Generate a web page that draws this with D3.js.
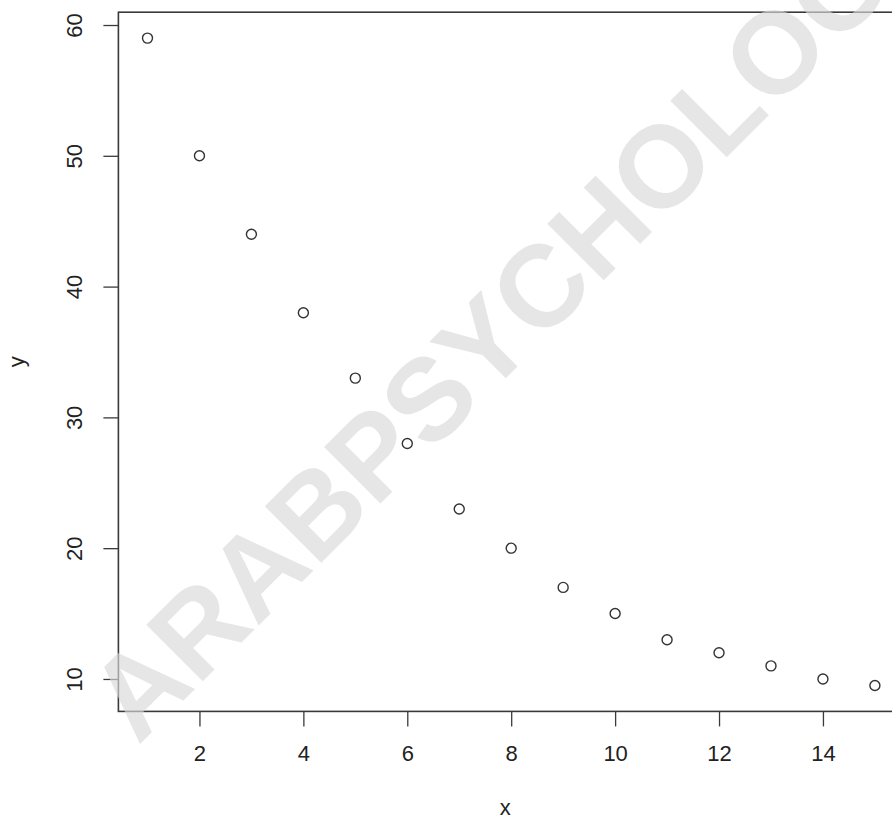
<!DOCTYPE html>
<html>
<head>
<meta charset="utf-8">
<script src="https://cdn.jsdelivr.net/npm/d3@7"></script>
<style>
  html, body { margin: 0; padding: 0; background: #fff; }
  svg { display: block; }
  text { font-family: "Liberation Sans", Arial, sans-serif; }
</style>
</head>
<body>
<div id="chart"></div>
<script>
var xValues = [1, 2, 3, 4, 5, 6, 7, 8, 9, 10, 11, 12, 13, 14, 15];
var yValues = [59, 50, 44, 38, 33, 28, 23, 20, 17, 15, 13, 12, 11, 10, 9.5];
var xTicks = [2, 4, 6, 8, 10, 12, 14];
var yTicks = [10, 20, 30, 40, 50, 60];
var xTitle = "x";
var yTitle = "y";
var watermark = "ARABPSYCHOLOGY";

var dim = { width: 892, height: 821 };
var plotBox = { left: 118.4, top: 12.2, right: 904, bottom: 711.4 };
var axisColor = "#3a3a3a";
var fontSize = 22;

// R style range: data extent padded 4% on each side
function padExtent(vals) {
    var ext = d3.extent(vals);
    var pad = (ext[1] - ext[0]) * 0.04;
    return [ext[0] - pad, ext[1] + pad];
}

var xScale = d3.scaleLinear().domain(padExtent(xValues)).range([plotBox.left, plotBox.right]);
var yScale = d3.scaleLinear().domain(padExtent(yValues)).range([plotBox.bottom, plotBox.top]);

var svg = d3.select("#chart").append("svg")
    .attr("width", dim.width)
    .attr("height", dim.height);

// x axis
var xAxis = svg.append("g")
    .attr("transform", "translate(0," + plotBox.bottom + ")")
    .call(d3.axisBottom(xScale).tickValues(xTicks).tickSize(15).tickPadding(19).tickSizeOuter(0));
// y axis
var yAxis = svg.append("g")
    .attr("transform", "translate(" + plotBox.left + ",0)")
    .call(d3.axisLeft(yScale).tickValues(yTicks).tickSize(15).tickSizeOuter(0));

[xAxis, yAxis].forEach(function (ax) {
    ax.select(".domain").remove();
    ax.selectAll(".tick line").attr("stroke", axisColor).attr("stroke-width", 1.3);
    ax.selectAll(".tick text")
        .attr("fill", "#222")
        .style("font-size", fontSize + "px")
        .style("font-family", "'Liberation Sans', Arial, sans-serif");
});

yAxis.selectAll(".tick text")
    .attr("x", null)
    .attr("text-anchor", "middle")
    .attr("transform", "translate(-44,0) rotate(-90)")
    .attr("y", 0)
    .attr("dy", "0.35em");

// plot frame
svg.append("rect")
    .attr("x", plotBox.left)
    .attr("y", plotBox.top)
    .attr("width", plotBox.right - plotBox.left)
    .attr("height", plotBox.bottom - plotBox.top)
    .attr("fill", "none")
    .attr("stroke", axisColor)
    .attr("stroke-width", 1.6);

// points
svg.append("g").selectAll("circle")
    .data(xValues)
    .enter().append("circle")
    .attr("cx", function (d) { return xScale(d); })
    .attr("cy", function (d, i) { return yScale(yValues[i]); })
    .attr("r", 5)
    .attr("fill", "none")
    .attr("stroke", "#333")
    .attr("stroke-width", 1.4);

// axis titles
svg.append("text")
    .attr("x", (plotBox.left + plotBox.right) / 2 - 6)
    .attr("y", 815)
    .attr("text-anchor", "middle")
    .style("font-size", fontSize + "px")
    .attr("fill", "#222")
    .text(xTitle);
svg.append("text")
    .attr("transform", "translate(24," + ((plotBox.top + plotBox.bottom) / 2) + ") rotate(-90)")
    .attr("text-anchor", "middle")
    .style("font-size", fontSize + "px")
    .attr("fill", "#222")
    .text(yTitle);

// watermark
svg.append("text")
    .attr("transform", "translate(138,746) rotate(-45)")
    .attr("text-anchor", "start")
    .style("font-size", "116px")
    .style("font-weight", "bold")
    .attr("fill", "#d9d9d9")
    .attr("fill-opacity", 0.65)
    .text(watermark);
</script>
</body>
</html>
